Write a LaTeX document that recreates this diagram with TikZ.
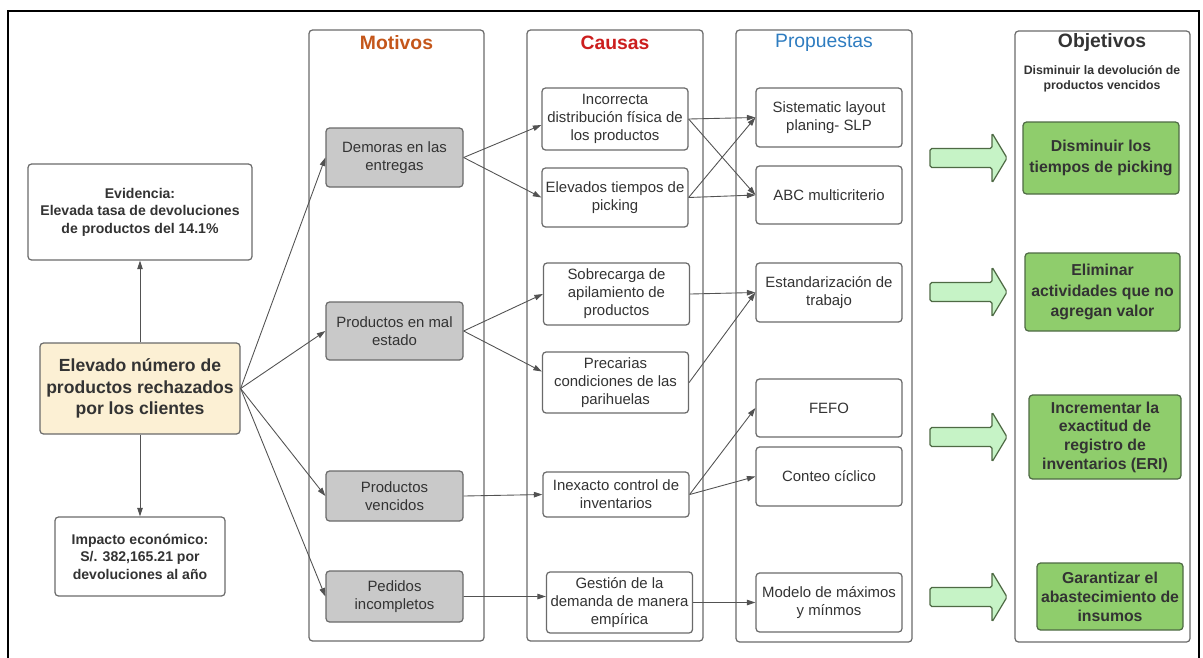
\documentclass[tikz,border=0pt]{standalone}
\usepackage{fontspec}
\setmainfont{Liberation Sans}
\usepackage{tikz}
\usetikzlibrary{arrows.meta}
\definecolor{txtgray}{HTML}{333333}
\definecolor{boxline}{HTML}{6A6A6A}
\definecolor{motgray}{HTML}{C9C9C9}
\definecolor{probyellow}{HTML}{FCF0D4}
\definecolor{goalgreen}{HTML}{8FCD6C}
\definecolor{goalline}{HTML}{4E6A44}
\definecolor{mintgreen}{HTML}{C6F3C6}
\definecolor{motcolor}{HTML}{C4561A}
\definecolor{caucolor}{HTML}{CC1E1E}
\definecolor{procolor}{HTML}{2E7CC0}
\tikzset{
    motbox/.style={draw=boxline, fill=motgray, rounded corners=2pt, line width=0.7pt, inner sep=0pt, align=center, text=txtgray, minimum width=27.4mm, font=\fontsize{8.5}{10.2}\selectfont},
    caubox/.style={draw=boxline, fill=white, rounded corners=2pt, line width=0.7pt, inner sep=0pt, align=center, text=txtgray, minimum width=29.2mm, font=\fontsize{8.5}{10.2}\selectfont},
    goalbox/.style={draw=goalline, fill=goalgreen, rounded corners=2pt, line width=0.7pt, inner sep=0pt, align=center, text=txtgray, font=\bfseries\fontsize{9}{11.5}\selectfont},
    leftbox/.style={draw=boxline, fill=white, rounded corners=2pt, line width=0.7pt, inner sep=0pt, align=center, text=txtgray, font=\bfseries\fontsize{8}{10}\selectfont},
    colframe/.style={draw=boxline, rounded corners=2pt, line width=0.7pt},
    conn/.style={draw=txtgray!85, line width=0.5pt, -{Triangle[length=1.7mm, width=1.1mm]}},
    goalarrow/.pic={\draw[draw=goalline, fill=mintgreen, line width=0.7pt, rounded corners=1pt] (0,-9.5) -- (62,-9.5) -- (62,-25) -- (77,0) -- (62,25) -- (62,9.5) -- (0,9.5) -- cycle;},
}

\begin{document}
\begin{tikzpicture}[x=0.2mm, y=-0.2mm]
\useasboundingbox (0,0) rectangle (1203,657);
% outer frame
\draw[line width=1.6pt] (8,660) -- (8,11) -- (1199,11) -- (1199,660);
% columns
\draw[colframe] (309,30) rectangle (484,641);
\draw[colframe] (527,30) rectangle (703,641);
\draw[colframe] (736,30) rectangle (912,642);
\draw[colframe] (1015,31) rectangle (1190,642);
\node[font=\bfseries\fontsize{11}{13}\selectfont, text=motcolor] (hmot) at (396.5,43) {Motivos};
\node[font=\bfseries\fontsize{11}{13}\selectfont, text=caucolor] (hcau) at (615,43) {Causas};
\node[font=\fontsize{11}{13}\selectfont, text=procolor] (hpro) at (824,43) {Propuestas};
\node[font=\bfseries\fontsize{11}{13}\selectfont, text=txtgray] (hobj) at (1102,42) {Objetivos};
\node[font=\bfseries\fontsize{7}{8.5}\selectfont, text=txtgray, align=center] (hsub) at (1102,79) {Disminuir la devolución de\\productos vencidos};
% problem
\node[leftbox, minimum width=44.8mm, minimum height=19.2mm] (evid) at (140,212) {Evidencia:\\Elevada tasa de devoluciones\\de productos del 14.1\%};
\node[leftbox, fill=probyellow, minimum width=40mm, minimum height=18.2mm, font=\bfseries\fontsize{10}{12.2}\selectfont] (prob) at (140,388.5) {Elevado número de\\productos rechazados\\por los clientes};
\node[leftbox, minimum width=34mm, minimum height=15.8mm] (impa) at (140,556.5) {Impacto económico:\\S/. 382,165.21 por\\devoluciones al año};
% motivos
\node[motbox, minimum height=11.8mm] (mot1) at (394.5,157.5) {Demoras en las\\entregas};
\node[motbox, minimum height=11.6mm] (mot2) at (394.5,331) {Productos en mal\\estado};
\node[motbox, minimum height=10mm] (mot3) at (394.5,496) {Productos\\vencidos};
\node[motbox, minimum height=10.2mm] (mot4) at (394.5,596.5) {Pedidos\\incompletos};
% causas
\node[caubox, minimum height=12.4mm] (cau1) at (615,119) {Incorrecta\\distribución física de\\los productos};
\node[caubox, minimum height=11.8mm] (cau2) at (615,197.5) {Elevados tiempos de\\picking};
\node[caubox, minimum height=12.4mm] (cau3) at (616.5,294) {Sobrecarga de\\apilamiento de\\productos};
\node[caubox, minimum height=12.2mm] (cau4) at (615.5,382.5) {Precarias\\condiciones de las\\parihuelas};
\node[caubox, minimum height=9mm] (cau5) at (616,494.5) {Inexacto control de\\inventarios};
\node[caubox, minimum height=12.2mm] (cau6) at (619.5,602.5) {Gestión de la\\demanda de manera\\empírica};
% propuestas
\node[caubox, minimum height=11.8mm] (pro1) at (829,117.5) {Sistematic layout\\planing- SLP};
\node[caubox, minimum height=11.6mm] (pro2) at (829,195) {ABC multicriterio};
\node[caubox, minimum height=11.8mm] (pro3) at (829,292.5) {Estandarización de\\trabajo};
\node[caubox, minimum height=11.6mm] (pro4) at (829,408) {FEFO};
\node[caubox, minimum height=11.8mm] (pro5) at (829,476.5) {Conteo cíclico};
\node[caubox, minimum height=11.8mm] (pro6) at (829,602.5) {Modelo de máximos\\y mínmos};
% objetivos
\node[goalbox, minimum width=31.2mm, minimum height=14.4mm] (obj1) at (1101,158) {Disminuir los\\tiempos de picking};
\node[goalbox, minimum width=31mm, minimum height=15.6mm] (obj2) at (1102.5,292) {Eliminar\\actividades que no\\agregan valor};
\node[goalbox, minimum width=30.4mm, minimum height=16.8mm, font=\bfseries\fontsize{9}{10.6}\selectfont] (obj3) at (1105,437) {Incrementar la\\exactitud de\\registro de\\inventarios (ERI)};
\node[goalbox, minimum width=29.2mm, minimum height=13.4mm, font=\bfseries\fontsize{9}{10.8}\selectfont] (obj4) at (1110,596.5) {Garantizar el\\abastecimiento de\\insumos};
% green arrows
\pic at (930,158) {goalarrow};
\pic at (930,292) {goalarrow};
\pic at (930,437) {goalarrow};
\pic at (930,597) {goalarrow};
% arrows
\draw[conn] (prob.north) -- (evid.south);
\draw[conn] (prob.south) -- (impa.north);
\foreach \m in {mot1,mot2,mot3,mot4}
  \draw[conn] (prob.east) -- (\m.west);
\draw[conn] (mot1.east) -- ([yshift=-1.2mm]cau1.west);
\draw[conn] (mot1.east) -- (cau2.west);
\draw[conn] (mot2.east) -- (cau3.west);
\draw[conn] (mot2.east) -- ([yshift=2.2mm]cau4.west);
\draw[conn] (mot3.east) -- (cau5.west);
\draw[conn] (mot4.east) -- ([yshift=1.2mm]cau6.west);
\draw[conn] (cau1.east) -- (pro1.west);
\draw[conn] (cau1.east) -- (pro2.west);
\draw[conn] (cau2.east) -- (pro1.west);
\draw[conn] (cau2.east) -- (pro2.west);
\draw[conn] (cau3.east) -- (pro3.west);
\draw[conn] (cau4.east) -- (pro3.west);
\draw[conn] (cau5.east) -- (pro4.west);
\draw[conn] (cau5.east) -- (pro5.west);
\draw[conn] (cau6.east) -- (pro6.west);
\end{tikzpicture}
\end{document}
